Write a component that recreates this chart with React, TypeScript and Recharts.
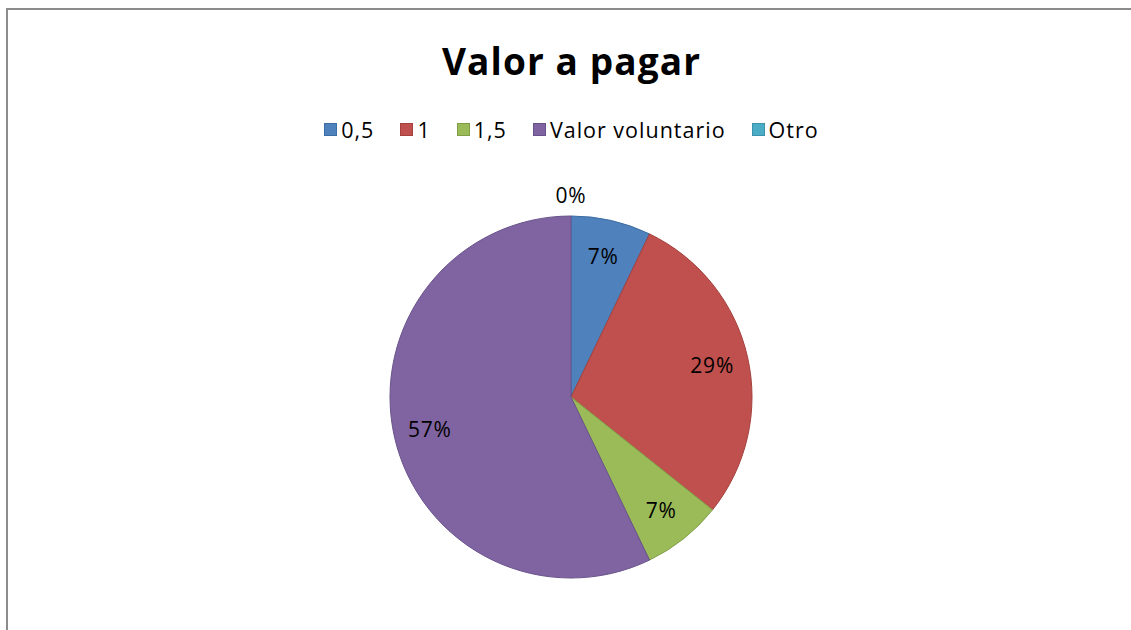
import { PieChart, Pie, Cell, Legend } from 'recharts';

const categories = ['0,5', '1', '1,5', 'Valor voluntario', 'Otro'];
const counts = [1, 4, 1, 8, 0];
const fills = ['#4F81BD', '#C0504D', '#9BBB59', '#8064A2', '#4BACC6'];
const strokes = ['#3E6DA3', '#A4413E', '#819D47', '#68528A', '#3A93AB'];

const data = categories.map((name, i) => ({ name, value: counts[i] }));

const FONT = "'Open Sans', 'Liberation Sans', sans-serif";
const RADIAN = Math.PI / 180;

const renderLabel = (props: any) => {
  const { cx, cy, midAngle, outerRadius, percent, value } = props;
  // zero slices get their label outside the pie, the rest sit inside
  const r = value === 0 ? outerRadius + 21 : outerRadius * 0.8;
  const x = cx + r * Math.cos(-midAngle * RADIAN);
  const y = cy + r * Math.sin(-midAngle * RADIAN);
  return (
    <text
      x={x}
      y={y}
      fill="#000"
      textAnchor="middle"
      dominantBaseline="central"
      fontSize={21}
      letterSpacing={0.8}
      fontFamily={FONT}
    >
      {`${Math.round(percent * 100)}%`}
    </text>
  );
};

const renderLegend = () => (
  <div
    style={{
      display: 'flex',
      justifyContent: 'center',
      alignItems: 'center',
      gap: 26,
      paddingLeft: 12,
      fontFamily: FONT,
      fontSize: 21.5,
      letterSpacing: 1,
      color: '#000',
    }}
  >
    {categories.map((name, i) => (
      <div key={name} style={{ display: 'flex', alignItems: 'center', gap: 4 }}>
        <span
          style={{
            display: 'inline-block',
            width: 11,
            height: 11,
            background: fills[i],
            border: `1px solid ${strokes[i]}`,
          }}
        />
        <span>{name}</span>
      </div>
    ))}
  </div>
);

export default function App() {
  return (
    <div
      style={{
        position: 'fixed',
        left: 0,
        top: 0,
        width: 1131,
        height: 630,
        overflow: 'hidden',
        background: '#fff',
      }}
    >
      <div
        style={{
          position: 'absolute',
          left: 6,
          top: 8,
          width: 1200,
          height: 700,
          border: '2px solid #8C8C8C',
        }}
      />
      <div
        style={{
          position: 'absolute',
          left: 6,
          top: 35,
          width: 1131,
          textAlign: 'center',
          fontFamily: FONT,
          fontWeight: 700,
          fontSize: 37,
          letterSpacing: 1.1,
          color: '#000',
        }}
      >
        Valor a pagar
      </div>
      <div style={{ position: 'absolute', left: 0, top: 0 }}>
        <PieChart width={1131} height={630} margin={{ top: 0, right: 0, bottom: 0, left: 0 }}>
          <Legend
            verticalAlign="top"
            content={renderLegend}
            wrapperStyle={{ top: 115, left: 0, width: 1131 }}
          />
          <Pie
            data={data}
            dataKey="value"
            nameKey="name"
            cx={571}
            cy={368}
            outerRadius={181}
            startAngle={90}
            endAngle={-270}
            label={renderLabel}
            labelLine={false}
            isAnimationActive={false}
          >
            {data.map((d, i) => (
              <Cell key={d.name} fill={fills[i]} stroke={strokes[i]} strokeWidth={1} />
            ))}
          </Pie>
        </PieChart>
      </div>
    </div>
  );
}
